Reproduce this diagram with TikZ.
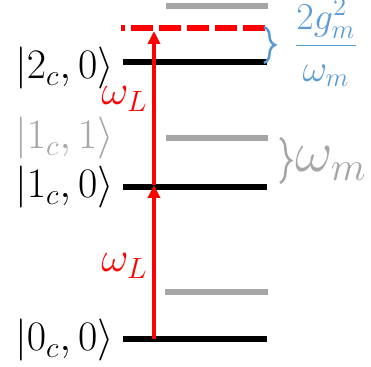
\RequirePackage{fix-cm}
\documentclass[tikz,border=0pt]{standalone}
\usepackage{amsmath}
\usetikzlibrary{arrows.meta,decorations.pathreplacing}
\definecolor{myblue}{RGB}{91,155,213}
\definecolor{mygray}{RGB}{166,166,166}
\begin{document}
\begin{tikzpicture}[x=0.5pt,y=-0.5pt,
  blackline/.style={line width=3.25pt, black},
  grayline/.style={line width=3pt, mygray},
  laser/.style={line width=2pt, red, -{Triangle[length=6.5pt,width=6pt]}},
  virt/.style={line width=2.75pt, red, dash pattern=on 11pt off 3pt, dash phase=9pt},
  lab/.style={font=\fontsize{21}{25}\selectfont, anchor=base east, inner sep=0pt},
  wl/.style={font=\fontsize{21}{25}\selectfont, anchor=base east, inner sep=0pt, text=red},
  bracestyle/.style={decorate, decoration={brace, amplitude=5.5pt}, line width=1.25pt}]
\useasboundingbox (0,0) rectangle (371,367);
% levels
\coordinate (b0l) at (123,339); \coordinate (b0r) at (267,339);
\coordinate (b1l) at (123,187); \coordinate (b1r) at (267,187);
\coordinate (b2l) at (123,62);  \coordinate (b2r) at (267,62);
\coordinate (g0l) at (165,292); \coordinate (g0r) at (268,292);
\coordinate (g1l) at (166,138); \coordinate (g1r) at (268,138);
\coordinate (g2l) at (166,6);   \coordinate (g2r) at (268,6);
\coordinate (vl) at (121,28);   \coordinate (vr) at (267,28);
\draw[grayline] (g0l) -- (g0r);
\draw[grayline] (g1l) -- (g1r);
\draw[grayline] (g2l) -- (g2r);
\draw[blackline] (b0l) -- (b0r);
\draw[blackline] (b1l) -- (b1r);
\draw[blackline] (b2l) -- (b2r);
\draw[virt] (vl) -- (vr);
% laser arrows
\coordinate (a0) at (154,339);
\coordinate (a1) at (154,185);
\coordinate (a2) at (154,31);
\draw[laser] (a0) -- (a1);
\draw[laser] (a1) -- (a2);
% labels
\node[lab] (l2) at (114,79) {$|2_c,0\rangle$};
\node[lab] (l1) at (114,198) {$|1_c,0\rangle$};
\node[lab] (l0) at (114,351) {$|0_c,0\rangle$};
\node[lab, text=mygray] (l11) at (114,149) {$|1_c,1\rangle$};
\node[wl] (wL1) at (148,105) {$\omega_L$};
\node[wl] (wL0) at (148,272) {$\omega_L$};
% braces
\coordinate (bt) at (264,27); \coordinate (bb) at (264,63);
\draw[bracestyle, myblue] (bt) -- (bb);
\coordinate (gt) at (280,138); \coordinate (gb) at (280,183);
\draw[bracestyle, mygray] (gt) -- (gb);
\node[text=myblue, font=\fontsize{19}{23}\selectfont, inner sep=0pt, anchor=base] (frac) at (326,55) {$\dfrac{2g_m^2}{\omega_m}$};
\node[text=mygray, font=\fontsize{29}{34}\selectfont, anchor=base west, inner sep=0pt] (wm) at (295,172) {$\omega_m$};
\end{tikzpicture}
\end{document}
